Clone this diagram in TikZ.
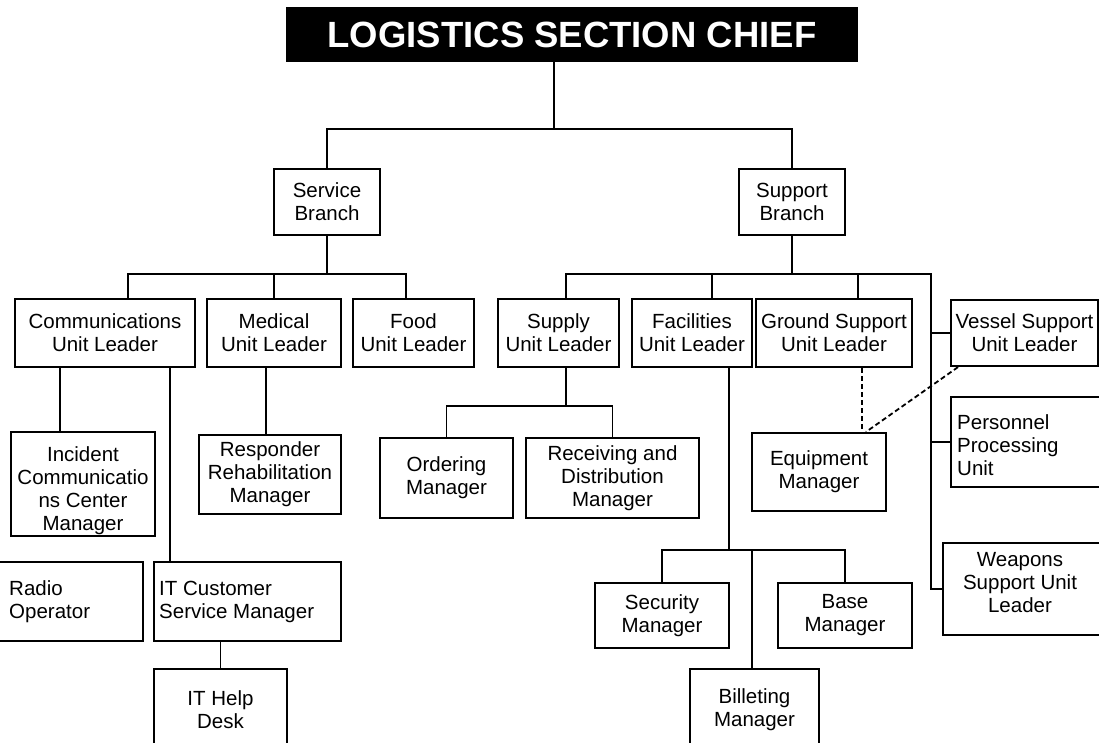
\documentclass[tikz,border=0pt]{standalone}
\usepackage{fontspec}
\setmainfont{Liberation Sans}
\begin{document}
\begin{tikzpicture}[x=1pt,y=-1pt,
  box/.style={draw, line width=2.2pt, inner sep=0pt, align=center, font=\fontsize{20.5}{23}\selectfont},
  txt/.style={inner sep=0pt, font=\fontsize{20.5}{23}\selectfont},
  conn/.style={line width=1.8pt},
  dconn/.style={line width=1.8pt, dash pattern=on 5pt off 3pt}]
\clip (0,0) rectangle (1099,743);
% title
\node[fill=black, text=white, inner sep=0pt, minimum width=572pt, minimum height=55pt,
      font=\fontsize{36.5}{40}\selectfont\bfseries] (title) at (572,34.5) {LOGISTICS SECTION CHIEF};
% branches
\node[box, minimum width=106pt, minimum height=66pt] (service) at (327,202) {Service\\Branch};
\node[box, minimum width=106pt, minimum height=66pt] (support) at (792,202) {Support\\Branch};
% unit leaders
\node[box, minimum width=180pt, minimum height=68pt] (comms) at (105,333) {Communications\\Unit Leader};
\node[box, minimum width=134pt, minimum height=68pt] (medical) at (274,333) {Medical\\Unit Leader};
\node[box, minimum width=121pt, minimum height=68pt] (food) at (413.5,333) {Food\\Unit Leader};
\node[box, minimum width=121pt, minimum height=68pt] (supply) at (558.5,333) {Supply\\Unit Leader};
\node[box, minimum width=120pt, minimum height=68pt] (facilities) at (692,333) {Facilities\\Unit Leader};
\node[box, minimum width=156pt, minimum height=68pt] (ground) at (834,333) {Ground Support\\Unit Leader};
\node[box, minimum width=147pt, minimum height=66pt] (vessel) at (1024.5,333) {Vessel Support\\Unit Leader};
% lower boxes
\node[box, minimum width=144pt, minimum height=104pt] (incident) at (83,484) {};
\node[txt, align=center] (incidentt) at (83,491) {Incident\\Communicatio\\ns Center\\Manager};
\node[box, minimum width=142pt, minimum height=79pt] (responder) at (270,474.5) {Responder\\Rehabilitation\\Manager};
\node[box, minimum width=133pt, minimum height=80pt] (ordering) at (446.5,478) {Ordering\\Manager};
\node[box, minimum width=173pt, minimum height=80pt] (receiving) at (612.5,478) {Receiving and\\Distribution\\Manager};
\node[box, minimum width=134pt, minimum height=78pt] (equipment) at (819,472) {Equipment\\Manager};
\node[box, minimum width=159pt, minimum height=90pt] (personnel) at (1030.5,442) {};
\node[txt, anchor=west, align=left] (personnelt) at (957,445.5) {Personnel\\Processing\\Unit};
\node[box, minimum width=163pt, minimum height=79pt] (radio) at (61.5,601.5) {};
\node[txt, anchor=west, align=left] (radiot) at (9,601.5) {Radio\\Operator};
\node[box, minimum width=187pt, minimum height=79pt] (itcust) at (247.5,601.5) {};
\node[txt, anchor=west, align=left] (itcustt) at (159,601.5) {IT Customer\\Service Manager};
\node[box, minimum width=133pt, minimum height=81pt] (ithelp) at (220.5,709.5) {IT Help\\Desk};
\node[box, minimum width=134pt, minimum height=65pt] (security) at (662,615.5) {Security\\Manager};
\node[box, minimum width=134pt, minimum height=65pt] (base) at (845,615.5) {Base\\Manager};
\node[box, minimum width=129pt, minimum height=81pt] (billeting) at (754.5,709.5) {Billeting\\Manager};
\node[box, minimum width=167pt, minimum height=92pt] (weapons) at (1026.5,589) {};
\node[txt, align=center] (weaponst) at (1020,583) {Weapons\\Support Unit\\Leader};
% helper coordinates
\coordinate (h0) at (554,129);
\coordinate (h1) at (0,274);
\coordinate (h2) at (0,406);
\coordinate (h3) at (0,550);
\coordinate (d1) at (128,0);
\coordinate (d2) at (406,0);
\coordinate (s1) at (566,0);
\coordinate (s2) at (712,0);
\coordinate (s3) at (858,0);
\coordinate (sp) at (931,0);
\coordinate (c1) at (60,0);
\coordinate (c2) at (170,0);
\coordinate (m1) at (266,0);
\coordinate (f1) at (729,0);
\coordinate (f2) at (752,0);
\coordinate (g1) at (862,0);
\coordinate (g2) at (866,0);
\coordinate (v1) at (958,0);
% top level
\draw[conn] (title.south -| h0) -- (h0);
\draw[conn] (service.north) -- (service.north |- h0) -- (support.north |- h0) -- (support.north);
% service branch
\draw[conn] (service.south) -- (service.south |- h1);
\draw[conn] (comms.north -| d1) -- (d1 |- h1) -- (h1 -| d2) -- (food.north -| d2);
\draw[conn] (medical.north) -- (medical.north |- h1);
% support branch
\draw[conn] (support.south) -- (support.south |- h1);
\draw[conn] (supply.north -| s1) -- (s1 |- h1) -- (h1 -| sp) -- (sp |- weapons.west) -- (weapons.west);
\draw[conn] (facilities.north -| s2) -- (s2 |- h1);
\draw[conn] (ground.north -| s3) -- (s3 |- h1);
\draw[conn] (sp |- vessel.west) -- (vessel.west);
\draw[conn] (sp |- personnel.west) -- (personnel.west);
% communications
\draw[conn] (comms.south -| c1) -- (incident.north -| c1);
\draw[conn] (comms.south -| c2) -- (itcust.north -| c2);
\draw[conn] (itcust.south -| ithelp.north) -- (ithelp.north);
% medical
\draw[conn] (medical.south -| m1) -- (responder.north -| m1);
% supply
\draw[conn] (supply.south -| s1) -- (s1 |- h2);
\draw[conn] (ordering.north) -- (ordering.north |- h2) -- (receiving.north |- h2) -- (receiving.north);
% facilities
\draw[conn] (facilities.south -| f1) -- (f1 |- h3);
\draw[conn] (security.north) -- (security.north |- h3) -- (base.north |- h3) -- (base.north);
\draw[conn] (billeting.north -| f2) -- (f2 |- h3);
% equipment (dashed)
\draw[dconn] (ground.south -| g1) -- (equipment.north -| g1);
\draw[dconn] (vessel.south -| v1) -- (equipment.north -| g2);
\end{tikzpicture}
\end{document}
